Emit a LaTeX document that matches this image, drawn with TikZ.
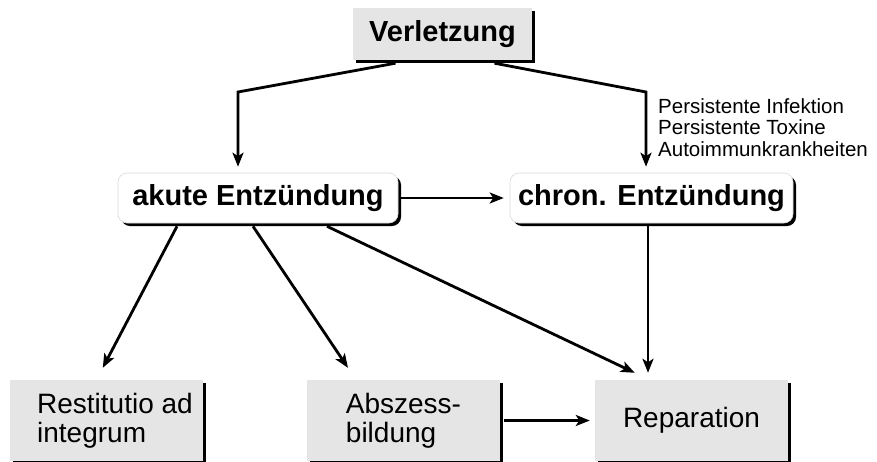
\documentclass[tikz,border=0pt]{standalone}
\usepackage{fontspec}
\setmainfont{Liberation Sans}
\usetikzlibrary{arrows.meta,shadows}
\newcommand\headfont{\fontsize{29}{33}\selectfont\bfseries}
\newcommand\cellfont{\fontsize{28}{29}\selectfont}
\newcommand\notefont{\fontsize{20.5}{21.5}\selectfont}
\tikzset{
  shade3/.style={drop shadow={shadow xshift=3pt,shadow yshift=-3pt,fill=black,opacity=1}},
  headbox/.style={fill=black!10,shade3,inner sep=0pt,font=\headfont},
  roundbox/.style={fill=white,draw=black!15,line width=.6pt,rounded corners=9pt,shade3,
    inner sep=0pt,minimum height=50pt,font=\headfont},
  cellbox/.style={fill=black!10,shade3,inner sep=0pt,minimum width=193pt,minimum height=81pt,
    align=left,font=\cellfont},
  arr/.style={-{Stealth[length=14pt,width=11pt,inset=3.5pt]},line width=2.8pt}
}
\begin{document}
\begin{tikzpicture}[x=1pt,y=-1pt]
\useasboundingbox (0,0) rectangle (877,461);
\clip (0,0) rectangle (877,461);
\node[headbox,minimum width=179pt,minimum height=52pt] (verl) at (442.5,34) {Verletzung};
\node[roundbox,minimum width=280pt] (akute) at (258,198) {akute Entzündung};
\node[roundbox,minimum width=283pt] (chron) at (651.5,198) {chron. Entzündung};
\node[cellbox] (rest) at (106.5,420.5) {\hspace*{17pt}Restitutio ad\\\hspace*{17pt}integrum};
\node[cellbox] (absz) at (403.5,420.5) {Abszess-\\bildung};
\node[cellbox] (rep) at (691.5,420.5) {Reparation};
\node[anchor=north west,inner sep=0pt,align=left,font=\notefont] (cause) at (658,98)
  {Persistente Infektion\\Persistente Toxine\\Autoimmunkrankheiten};
% bends below Verletzung
\coordinate (kl) at (238,92);
\coordinate (kr) at (646,92);
\draw[arr,shorten >=6pt] ([xshift=-47pt,yshift=-3pt]verl.south) -- (kl) -- (kl |- akute.north);
\draw[arr,shorten >=6pt] ([xshift=52pt,yshift=-3pt]verl.south) -- (kr) -- (kr |- chron.north);
\draw[arr,shorten >=6pt] ([xshift=3pt]akute.east) -- (chron.west);
% out of the acute inflammation
\draw[arr,shorten >=13.5pt] ([xshift=-81pt,yshift=-3pt]akute.south) -- ([xshift=-10pt]rest.north);
\draw[arr,shorten >=14.4pt] ([xshift=-5pt,yshift=-3pt]akute.south) -- ([xshift=-47.5pt]absz.north);
\draw[arr,shorten >=16.3pt] ([xshift=69pt,yshift=-3pt]akute.south) -- ([xshift=-42pt]rep.north);
\draw[arr,shorten >=7pt] ([xshift=-3.5pt,yshift=-3pt]chron.south) -- ([xshift=-3.5pt]chron.south |- rep.north);
\draw[arr,shorten >=5pt] ([xshift=4pt]absz.east) -- (rep.west);
\end{tikzpicture}
\end{document}
